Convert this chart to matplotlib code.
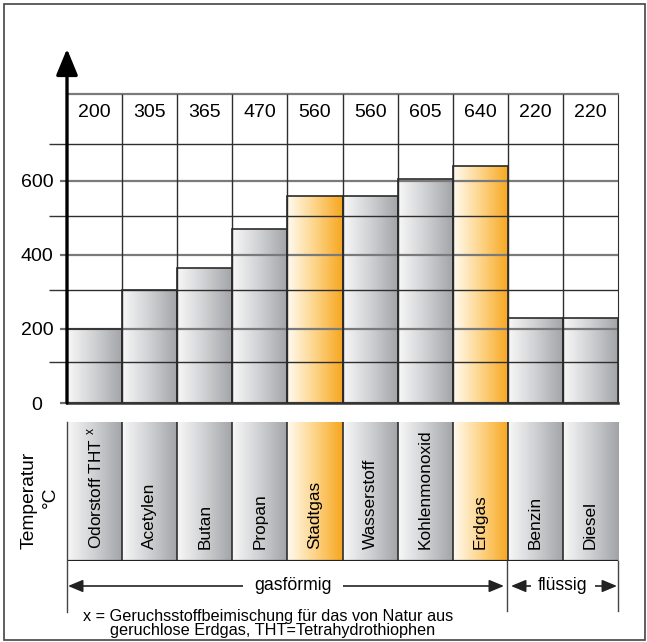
import numpy as np
import matplotlib
matplotlib.use("Agg")
import matplotlib.pyplot as plt
from matplotlib.colors import LinearSegmentedColormap
from matplotlib.patches import Rectangle

plt.rcParams["font.family"] = ["Liberation Sans", "DejaVu Sans"]

# ignition temperatures (table row) and drawn bar heights
fuels = ["Odorstoff THT $^{\\mathregular{x}}$", "Acetylen", "Butan", "Propan", "Stadtgas",
         "Wasserstoff", "Kohlenmonoxid", "Erdgas", "Benzin", "Diesel"]
temps = [200, 305, 365, 470, 560, 560, 605, 640, 220, 220]
bar_tops = [200, 305, 365, 470, 560, 560, 605, 640, 230, 230]
orange = [False, False, False, False, True, False, False, True, False, False]
yticks = [0, 200, 400, 600]
minor_lines = [110, 305, 505, 700]

W, H = 647, 642
fig = plt.figure(figsize=(W / 100, H / 100), dpi=100)


def fx(p):
    return p / W


def fy(p):
    return 1 - p / H


gray_cm = LinearSegmentedColormap.from_list("g", ["#f8f8f8", "#cfd0d2", "#a2a3a7"])
orange_cm = LinearSegmentedColormap.from_list("o", ["#fffbf2", "#fdd488", "#f7a61e"])
grad = np.linspace(0, 1, 256).reshape(1, -1)
n = len(fuels)
YMAX = 835

# main bar chart
ax = fig.add_axes([fx(67), fy(403), fx(618) - fx(67), fy(94) - fy(403)])
ax.set_facecolor("none")
bars = ax.bar(np.arange(n), bar_tops, width=1, align="edge", fill=False,
              edgecolor="#2b2b2b", lw=1.2, zorder=3)
for i, b in enumerate(bars):
    cm = orange_cm if orange[i] else gray_cm
    im = ax.imshow(grad, extent=(i, i + 1, 0, bar_tops[i]), cmap=cm,
                   aspect="auto", zorder=1, interpolation="bilinear")
    im.set_clip_path(b)
ax.set_xlim(0, n)
ax.set_ylim(0, YMAX)
ax.set_xticks([])
ax.set_yticks(yticks)
ax.set_yticks(minor_lines, minor=True)
ax.set_yticklabels([str(v) for v in yticks], fontsize=14)
for lab in ax.get_yticklabels():
    lab.set_horizontalalignment("center")
ax.tick_params(axis="y", which="major", length=5, width=1.6, color="#6e6e6e", pad=16.5)
ax.tick_params(axis="y", which="minor", length=13, width=1.0, color="#333333")
ax.set_axisbelow(False)
ax.grid(axis="y", which="major", color="#7a7a7a", lw=1.6)
ax.grid(axis="y", which="minor", color="#2e2e2e", lw=1.0)
ax.vlines(np.arange(1, n), 0, YMAX, color="#2e2e2e", lw=1.0, zorder=2.6)
ax.spines["left"].set_visible(False)
ax.spines["top"].set_color("#7a7a7a")
ax.spines["top"].set_linewidth(1.6)
ax.spines["right"].set_color("#2e2e2e")
ax.spines["bottom"].set_color("#333333")
ax.spines["bottom"].set_linewidth(1.8)
for i, t in enumerate(temps):
    ax.text(i + 0.5, 784, str(t), ha="center", va="center", fontsize=14)
ax.annotate("", xy=(0, 957), xytext=(0, 0), annotation_clip=False,
            arrowprops=dict(arrowstyle="-|>,head_length=0.8,head_width=0.33",
                            mutation_scale=20, lw=2.4, color="black",
                            shrinkA=0, shrinkB=0))

# label strip
lx = fig.add_axes([fx(67), fy(561), fx(618) - fx(67), fy(422) - fy(561)])
lx.set_facecolor("none")
for i, name in enumerate(fuels):
    cm = orange_cm if orange[i] else gray_cm
    lx.imshow(grad, extent=(i, i + 1, 0, 1), cmap=cm, aspect="auto",
              zorder=1, interpolation="bilinear")
    lx.text(i + 0.5, 0.085, name, rotation=90, ha="center", va="bottom",
            fontsize=12.4, zorder=3)
lx.vlines(np.arange(1, n), 0, 1, color="#2e2e2e", lw=1.2, zorder=2)
lx.axhline(0, color="#222222", lw=1.6, zorder=2)
lx.set_xlim(0, n)
lx.set_ylim(0, 1)
lx.axis("off")

# overlay in pixel coordinates
ov = fig.add_axes([0, 0, 1, 1], zorder=10)
ov.set_xlim(0, W)
ov.set_ylim(H, 0)
ov.axis("off")
ov.patch.set_visible(False)
ov.add_patch(Rectangle((4, 4), 641, 636, fill=False, ec="#444444", lw=1.2))
ov.plot([67, 67], [422, 612], color="#444444", lw=1.0)
ov.plot([507, 507], [561, 611], color="#444444", lw=1.0)
ov.plot([618, 618], [561, 611], color="#444444", lw=1.0)

arrow_kw = dict(arrowstyle="<|-|>,head_length=0.6,head_width=0.25",
                mutation_scale=15, lw=1.2, color="#222222", shrinkA=0, shrinkB=0)
ov.annotate("", xy=(68, 586), xytext=(504, 586), arrowprops=arrow_kw)
ov.text(293, 585, "gasförmig", ha="center", va="center", fontsize=12.7,
        bbox=dict(fc="white", ec="none", pad=8))
ov.annotate("", xy=(511, 586), xytext=(617, 586), arrowprops=arrow_kw)
ov.text(563, 585, "flüssig", ha="center", va="center", fontsize=12.7,
        bbox=dict(fc="white", ec="none", pad=5))

ov.text(29, 500, "Temperatur", rotation=90, ha="center", va="center", fontsize=13.9)
ov.text(50, 497, "°C", rotation=90, ha="center", va="center", fontsize=13.9)
ov.text(83, 616, "x = Geruchsstoffbeimischung für das von Natur aus",
        ha="left", va="center", fontsize=11.7)
ov.text(110, 631, "geruchlose Erdgas, THT=Tetrahydrothiophen",
        ha="left", va="center", fontsize=11.7)

fig.savefig("out.png", dpi=100)
plt.close(fig)
